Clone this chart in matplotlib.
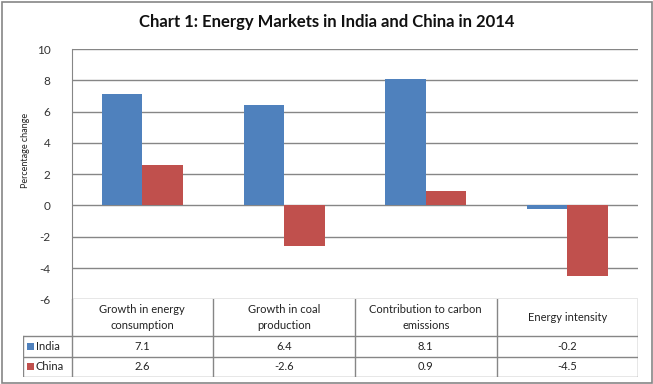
import matplotlib.pyplot as plt
from matplotlib.patches import Rectangle

categories = ["Growth in energy\nconsumption", "Growth in coal\nproduction",
              "Contribution to carbon\nemissions", "Energy intensity"]
series_names = ["India", "China"]
india = [7.1, 6.4, 8.1, -0.2]
china = [2.6, -2.6, 0.9, -4.5]
yticks = [-6, -4, -2, 0, 2, 4, 6, 8, 10]

colors = ["#4F81BD", "#C0504D"]
grid_col = "#868686"
text_col = "#222222"
W, H = 653, 384

plt.rcParams['font.family'] = ['Lato', 'DejaVu Sans']

fig = plt.figure(figsize=(W / 100, H / 100), dpi=100)

# plot area in pixels
x0, x1, ytop, ybot = 71.5, 638.3, 49.0, 299.3
ax = fig.add_axes([x0 / W, 1 - ybot / H, (x1 - x0) / W, (ybot - ytop) / H])

n = len(categories)
pos = list(range(n))
bw = 0.286
ax.bar([p - bw / 2 for p in pos], india, bw, color=colors[0], zorder=3)
ax.bar([p + bw / 2 for p in pos], china, bw, color=colors[1], zorder=3)

ax.set_xlim(-0.5, n - 0.5)
ax.set_ylim(-6, 10)
ax.set_yticks(yticks)
ax.set_yticklabels([str(t) for t in yticks], fontsize=8.5, color="#333333")
ax.tick_params(axis='y', length=0, pad=15)
ax.set_xticks([])
ax.grid(axis='y', color=grid_col, linewidth=1, zorder=0)
for s in ['top', 'right', 'bottom']:
    ax.spines[s].set_visible(False)
ax.spines['left'].set_color(grid_col)
ax.set_ylabel("Percentage change", fontsize=6.5, color=text_col)
ax.yaxis.set_label_coords((30.5 - x0) / (x1 - x0), (ybot - 150) / (ybot - ytop))

# data table under the plot, in its own axes (x: category units, y: pixels)
lab_l = 22.7
tbl_bottom = 377.3
hdr_h, row_h = 36.4, 20.8
colw = (x1 - x0) / n
lw = (x0 - lab_l) / colw
tax = fig.add_axes([lab_l / W, 1 - tbl_bottom / H, (x1 - lab_l) / W, (tbl_bottom - ybot) / H])
tax.set_xlim(-lw, n)
tax.set_ylim(tbl_bottom - ybot, 0)
tax.axis('off')

rows = [india, china]
y_hdr_bot = hdr_h
# horizontal lines
tax.plot([0, n], [y_hdr_bot, y_hdr_bot], color=grid_col, lw=1, solid_capstyle='butt')
for i in range(len(rows)):
    yb = hdr_h + row_h * (i + 1)
    tax.plot([-lw, n], [yb, yb], color=grid_col, lw=1, solid_capstyle='butt')
tax.plot([-lw, 0], [hdr_h, hdr_h], color=grid_col, lw=1, solid_capstyle='butt')
# vertical lines
tax.plot([-lw, -lw], [hdr_h, hdr_h + row_h * len(rows)], color=grid_col, lw=1)
for c in range(n + 1):
    tax.plot([c, c], [0, hdr_h + row_h * len(rows)], color=grid_col, lw=1)

for c, cat in enumerate(categories):
    tax.text(c + 0.5, hdr_h / 2, cat, ha='center', va='center', fontsize=8,
             color=text_col, linespacing=1.5)
for i, (name, vals) in enumerate(zip(series_names, rows)):
    yc = hdr_h + row_h * (i + 0.5)
    tax.add_patch(Rectangle((-lw + 4 / colw, yc - 3.5), 7 / colw, 7,
                            facecolor=colors[i], edgecolor='none'))
    tax.text(-lw + 13 / colw, yc, name, ha='left', va='center', fontsize=8, color=text_col)
    for c, v in enumerate(vals):
        tax.text(c + 0.5, yc, f"{v:g}", ha='center', va='center', fontsize=8, color=text_col)

fig.text(0.5, 1 - 22 / H, "Chart 1: Energy Markets in India and China in 2014",
         ha='center', va='center', fontsize=12, fontweight='bold', color="#111111")

# chart outer border
fig.patches.append(Rectangle((1.5 / W, 1.5 / H), (W - 3) / W, (H - 3) / H,
                             transform=fig.transFigure, fill=False,
                             edgecolor=grid_col, linewidth=1.2))

fig.savefig("out.png", dpi=100)
